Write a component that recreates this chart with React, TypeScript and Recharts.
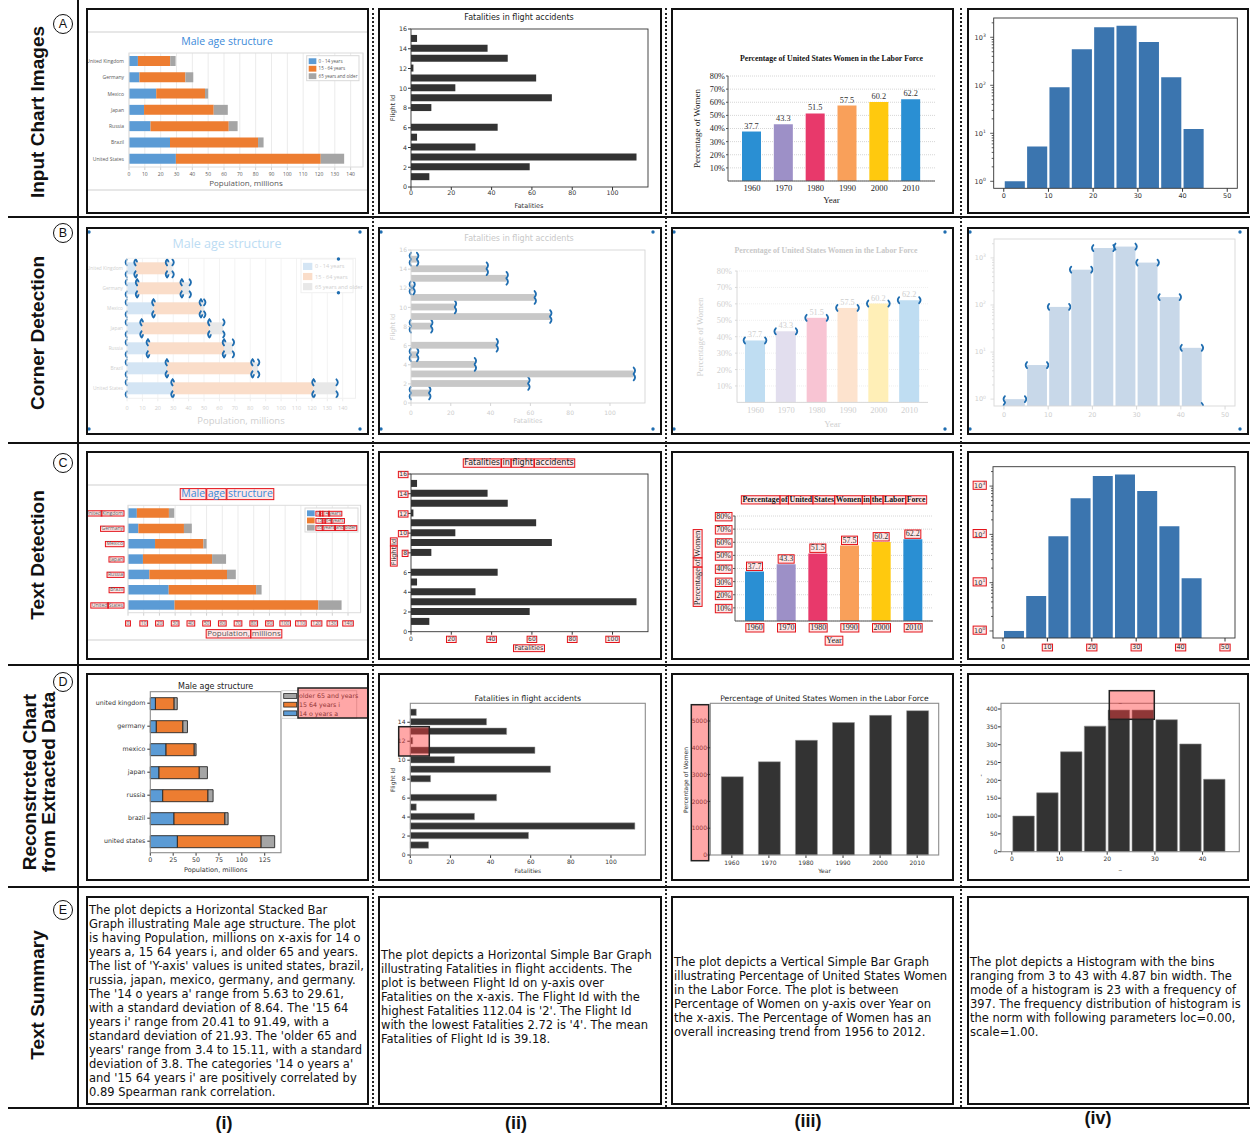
import React from "react";
import { BarChart, Bar, XAxis, YAxis, CartesianGrid, Cell, LabelList } from "recharts";

// ---------- data ----------
const countries = ["United Kingdom", "Germany", "Mexico", "Japan", "Russia", "Brazil", "United States"];
const age0to14 = [5.63, 6.6, 17.2, 9.5, 13.6, 25.9, 29.61];
const age15to64 = [20.41, 29.0, 30.8, 44.0, 49.4, 55.6, 91.49];
const age65plus = [3.4, 5.0, 2.0, 8.9, 5.6, 3.5, 14.8];
const ageTicks = [0, 10, 20, 30, 40, 50, 60, 70, 80, 90, 100, 110, 120, 130, 140];
const ageTicksRecon = [0, 25, 50, 75, 100, 125];
const ageLegend = ["0 - 14 years", "15 - 64 years", "65 years and older"];
const ageLegendRecon = ["older 65 and years", "15 64 years i", "14 o years a"];

const flightIds = [1, 2, 3, 4, 5, 6, 7, 8, 9, 10, 11, 12, 13, 14, 15];
const fatalities = [9.1, 58.9, 111.9, 32, 3, 43, 0, 10.1, 69.9, 22, 62.1, 1.2, 48, 38, 3];
const flightTicks = [0, 2, 4, 6, 8, 10, 12, 14, 16];
const flightTicksRecon = [0, 2, 4, 6, 8, 10, 12, 14];
const fatalityTicks = [0, 20, 40, 60, 80, 100];

const years = ["1960", "1970", "1980", "1990", "2000", "2010"];
const womenPct = [37.7, 43.3, 51.5, 57.5, 60.2, 62.2];
const womenRecon = [2920, 3480, 4280, 4940, 5210, 5385];
const pctTicks = [10, 20, 30, 40, 50, 60, 70, 80];
const reconPctTicks = [0, 1000, 2000, 3000, 4000, 5000];

const BIN = 5;
const binStarts = [0, 5, 10, 15, 20, 25, 30, 35, 40];
const binCounts = [1, 5.3, 91, 562, 1620, 1740, 795, 147, 12.3];
const reconCounts = [100, 165, 280, 352, 397, 397, 370, 302, 203];
const histTicks = [0, 10, 20, 30, 40, 50];
const histTicksRecon = [0, 10, 20, 30, 40];
const logTicks = [1, 2, 3, 4, 5, 6, 7, 8, 9, 10, 20, 30, 40, 50, 60, 70, 80, 90, 100, 200, 300, 400, 500, 600, 700, 800, 900, 1000, 2000];
const countTicksRecon = [0, 50, 100, 150, 200, 250, 300, 350, 400];

const summaries = [
  "The plot depicts a Horizontal Stacked Bar Graph illustrating Male age structure. The plot is having Population, millions on x-axis for 14 o years a, 15 64 years i, and older 65 and years. The list of 'Y-axis' values is united states, brazil, russia, japan, mexico, germany, and germany. The '14 o years a' range from 5.63 to 29.61, with a standard deviation of 8.64. The '15 64 years i' range from 20.41 to 91.49, with a standard deviation of 21.93. The 'older 65 and years' range from 3.4 to 15.11, with a standard deviation of 3.8. The categories '14 o years a' and '15 64 years i' are positively correlated by 0.89 Spearman rank correlation.",
  "The plot depicts a Horizontal Simple Bar Graph illustrating Fatalities in flight accidents. The plot is between Flight Id on y-axis over Fatalities on the x-axis. The Flight Id with the highest Fatalities 112.04 is '2'. The Flight Id with the lowest Fatalities 2.72 is '4'. The mean Fatalities of Flight Id is 39.18.",
  "The plot depicts a Vertical Simple Bar Graph illustrating Percentage of United States Women in the Labor Force. The plot is between Percentage of Women on y-axis over Year on the x-axis. The Percentage of Women has an overall increasing trend from 1956 to 2012.",
  "The plot depicts a Histogram with the bins ranging from 3 to 43 with 4.87 bin width. The mode of a histogram is 23 with a frequency of 397. The frequency distribution of histogram is the norm with following parameters loc=0.00, scale=1.00.",
];

const ageRows = countries.map((name, i) => ({ name, a: age0to14[i], b: age15to64[i], c: age65plus[i] }));
const ageRowsRecon = ageRows.map((r) => ({ ...r, name: r.name.toLowerCase() }));
const flightRows = flightIds.map((id, i) => ({ id, fat: fatalities[i] }));
const womenRows = years.map((year, i) => ({ year, pct: womenPct[i], recon: womenRecon[i] }));
const histRows = binStarts.map((s, i) => ({ mid: s + BIN / 2, count: binCounts[i] }));
const histRowsRecon = binStarts.map((s, i) => ({ mid: s + BIN / 2, count: reconCounts[i] }));

// ---------- style ----------
const MPL = "'DejaVu Sans', sans-serif";
const SERIF = "'Liberation Serif', 'DejaVu Serif', serif";
const EXCEL = "'Open Sans', 'Noto Sans', sans-serif";
const SANS = "'Liberation Sans', Arial, sans-serif";
const RED = "#e3141b";
const BOXFILL = "rgba(255,60,60,0.12)";
const MK = "#1f6db0";
const ageColors = ["#5b9bd5", "#ed7d31", "#a5a5a5"];
const ageKeys = ["a", "b", "c"];
const womenColors = ["#2a8fd3", "#9d90c7", "#e8396b", "#f9a05a", "#ffc90e", "#2a8fd3"];

const colX = [86, 378, 671, 967];
const colW = [283, 284, 283, 282];
const rowY = [8, 227, 451, 673, 896];
const rowH = [206, 208, 209, 208, 209];
const summaryPadRight = [4, 6, 4, 4];

type Mode = "input" | "corner" | "text";

function fade(hex: string, k: number) {
  const n = parseInt(hex.slice(1), 16);
  const c = [n >> 16, (n >> 8) & 255, n & 255].map((v) => Math.round(v + (255 - v) * k));
  return `rgb(${c.join(",")})`;
}

let ctx2d: CanvasRenderingContext2D | null = null;
function tw(s: string, size: number, font: string, weight: string | number = "normal") {
  if (!ctx2d) ctx2d = document.createElement("canvas").getContext("2d");
  if (!ctx2d) return s.length * size * 0.55;
  ctx2d.font = `${weight} ${size}px ${font}`;
  return ctx2d.measureText(s).width;
}

type TP = {
  x: number; y: number; s: string; size: number; font: string; fill?: string;
  anchor?: "start" | "middle" | "end"; weight?: string | number; boxed?: boolean; rot?: number;
};

// svg text, optionally with a red box around every word
function T(props: TP) {
  const { x, y, s, size, font, fill = "#333", anchor = "start", weight = "normal", boxed = false, rot = 0 } = props;
  if (rot) {
    return (
      <g transform={`translate(${x} ${y}) rotate(${rot})`}>
        <T {...props} x={0} y={size * 0.35} rot={0} />
      </g>
    );
  }
  const boxes: React.ReactNode[] = [];
  if (boxed) {
    const full = tw(s, size, font, weight);
    const x0 = anchor === "middle" ? x - full / 2 : anchor === "end" ? x - full : x;
    const words = s.split(" ");
    words.forEach((w, i) => {
      if (!w) return;
      const pre = i ? tw(words.slice(0, i).join(" ") + " ", size, font, weight) : 0;
      boxes.push(
        <rect key={i} x={x0 + pre - 1} y={y - size * 0.8} width={tw(w, size, font, weight) + 2}
          height={size * 1.05} fill={BOXFILL} stroke={RED} strokeWidth={1} />
      );
    });
  }
  return (
    <g>
      {boxes}
      <text x={x} y={y} fontSize={size} fontFamily={font} fontWeight={weight} fill={fill} textAnchor={anchor}>
        {s}
      </text>
    </g>
  );
}

type TickOpt = {
  side: "left" | "bottom"; at: number; size: number; font: string; fill: string;
  fmt?: (v: any) => string; box?: (v: any) => boolean;
};
function tk(o: TickOpt) {
  return (p: any) => {
    const v = p.payload?.value;
    const s = o.fmt ? o.fmt(v) : String(v);
    const boxed = o.box ? o.box(v) : false;
    if (o.side === "bottom")
      return <T x={p.x} y={o.at} s={s} size={o.size} font={o.font} fill={o.fill} anchor="middle" boxed={boxed} />;
    return <T x={o.at} y={p.y + o.size * 0.36} s={s} size={o.size} font={o.font} fill={o.fill} anchor="end" boxed={boxed} />;
  };
}

// corner-detection markers
function markD(cx: number, cy: number, sx: number) {
  return `M ${cx} ${cy - 3} Q ${cx + sx * 2.8} ${cy} ${cx} ${cy + 3}`;
}
function cornerBar(pick: (p: any) => number[][]) {
  return (p: any) => {
    const { x, y, width, height, fill } = p;
    if (!(width > 0) || !(height > 0)) return <g />;
    return (
      <g>
        <rect x={x} y={y} width={width} height={height} fill={fill} />
        {pick(p).map(([cx, cy, sx], i) => (
          <path key={i} d={markD(cx, cy, sx)} fill="none" stroke={MK} strokeWidth={1.8} strokeLinecap="round" />
        ))}
      </g>
    );
  };
}
const allCorners = (p: any) => [
  [p.x, p.y, -1], [p.x + p.width, p.y, 1], [p.x, p.y + p.height, -1], [p.x + p.width, p.y + p.height, 1],
];
const topCorners = (p: any) => [[p.x, p.y, -1], [p.x + p.width, p.y, 1]];
const fatCorners = (p: any) => {
  const right = [[p.x + p.width, p.y, 1], [p.x + p.width, p.y + p.height, 1]];
  return p.payload && p.payload.fat < 15 ? [...right, [p.x, p.y, -1], [p.x, p.y + p.height, -1]] : right;
};
const histCorners = (p: any) => {
  const out = topCorners(p);
  if (p.index === 0) out.push([p.x, p.y + p.height, -1]);
  if (p.index === binStarts.length - 1) out.push([p.x + p.width, p.y + p.height, 1]);
  return out;
};

function Overlay({ W, H, children }: any) {
  return (
    <svg width={W} height={H} style={{ position: "absolute", left: 0, top: 0, overflow: "visible", pointerEvents: "none" }}>
      {children}
    </svg>
  );
}
function ChartBox({ children }: any) {
  return <div style={{ position: "absolute", left: 0, top: 0 }}>{children}</div>;
}
function PanelDots({ W, H }: { W: number; H: number }) {
  const pts = [[3, 5], [W - 9, 5], [3, H - 6], [W - 9, H - 6]];
  return <g>{pts.map(([x, y], i) => <circle key={i} cx={x} cy={y} r={1.7} fill={MK} />)}</g>;
}

// ---------- column (i): male age structure ----------
const ageCfg: Record<Mode, any> = {
  input: { l: 43, r: 277, t: 45, b: 159, xMax: 147.8, bar: 10, title: [141, 37, 10.5], xt: [167.5, 5], yt: [38, 5], lab: [160, 178, 8], leg: [220.7, 47.7, 52.3, 25, 4.5], frame: [24, 182] },
  corner: { l: 41, r: 269.5, t: 31.3, b: 171.3, xMax: 148.3, bar: 12, title: [141, 20.5, 12.5], xt: [183.3, 5.5], yt: [37, 4.8], lab: [155, 196.5, 9.5], leg: [215, 32, 52, 33.7, 5.5], frame: null },
  text: { l: 42, r: 274.6, t: 54.3, b: 161.7, xMax: 148, bar: 9.5, title: [141, 46, 10.5], xt: [173.8, 5], yt: [37, 5], lab: [158, 185, 8], leg: [219, 57, 53, 24, 4.5], frame: [34, 189] },
};

function AgeExcel({ mode, W, H }: { mode: Mode; W: number; H: number }) {
  const c = ageCfg[mode];
  const faded = mode === "corner";
  const boxed = mode === "text";
  const cols = ageColors.map((k) => (faded ? fade(k, 0.74) : k));
  const txt = faded ? "#d0d0d0" : "#595959";
  const [lx, ly, lw, lh, lf] = c.leg;
  return (
    <>
      <ChartBox>
        <BarChart width={W} height={H} layout="vertical" data={ageRows} margin={{ top: c.t, right: W - c.r, bottom: 0, left: 0 }} barSize={c.bar}>
          <CartesianGrid horizontal={false} stroke={faded ? "#f3f3f3" : "#ebebeb"} />
          <XAxis type="number" domain={[0, c.xMax]} ticks={ageTicks} interval={0} height={H - c.b} axisLine={false}
            tickSize={3} tickLine={{ stroke: faded ? "#ececec" : "#d0d0d0" }}
            tick={tk({ side: "bottom", at: c.xt[0], size: c.xt[1], font: EXCEL, fill: txt, box: () => boxed })} />
          <YAxis type="category" dataKey="name" width={c.l} axisLine={false} tickLine={false} interval={0}
            tick={tk({ side: "left", at: c.yt[0], size: c.yt[1], font: EXCEL, fill: txt, box: () => boxed })} />
          {ageKeys.map((k, i) => (
            <Bar key={k} dataKey={k} stackId="age" fill={cols[i]} isAnimationActive={false}
              shape={faded ? cornerBar(allCorners) : undefined} />
          ))}
        </BarChart>
      </ChartBox>
      <Overlay W={W} H={H}>
        {c.frame && c.frame.map((y: number) => <line key={y} x1={2} x2={W - 2} y1={y} y2={y} stroke="#cfcfcf" />)}
        <rect x={c.l} y={c.t} width={c.r - c.l} height={c.b - c.t} fill="none" stroke={faded ? "#f0f0f0" : "#dcdcdc"} />
        <T x={c.title[0]} y={c.title[1]} s="Male age structure" size={c.title[2]} font={EXCEL} fill={faded ? "#bcdcf3" : "#3b8ad9"} anchor="middle" boxed={boxed} />
        <T x={c.lab[0]} y={c.lab[1]} s="Population, millions" size={c.lab[2]} font={EXCEL} fill={faded ? "#cfcfcf" : "#595959"} anchor="middle" boxed={boxed} />
        <rect x={lx} y={ly} width={lw} height={lh} fill="#fff" stroke={faded ? "#f0f0f0" : "#d9d9d9"} />
        {ageLegend.map((name, i) => {
          const ry = ly + lh * (0.22 + i * 0.3);
          return (
            <g key={name}>
              <rect x={lx + 2} y={ry - lf * 0.65} width={lf * 1.7} height={lf * 1.3} fill={cols[i]} />
              <T x={lx + 2 + lf * 2.2} y={ry + lf * 0.36} s={name} size={lf} font={EXCEL} fill={txt} boxed={boxed} />
            </g>
          );
        })}
        {faded && <PanelDots W={W} H={H} />}
        {faded && <circle cx={lx + lw * 0.72} cy={ly} r={1.7} fill={MK} />}
        {faded && <circle cx={lx + lw * 0.72} cy={ly + lh} r={1.7} fill={MK} />}
      </Overlay>
    </>
  );
}

function AgeRecon({ W, H }: { W: number; H: number }) {
  const c = { l: 64.3, r: 195, t: 18.7, b: 179.7 };
  const legCols = [ageColors[2], ageColors[1], ageColors[0]];
  return (
    <>
      <ChartBox>
        <BarChart width={W} height={H} layout="vertical" data={ageRowsRecon} margin={{ top: c.t, right: W - c.r, bottom: 0, left: 0 }} barSize={12}>
          <XAxis type="number" domain={[0, 142.8]} ticks={ageTicksRecon} interval={0} height={H - c.b} axisLine={false}
            tickSize={3} tickLine={{ stroke: "#333" }}
            tick={tk({ side: "bottom", at: 189.3, size: 6.3, font: MPL, fill: "#333" })} />
          <YAxis type="category" dataKey="name" width={c.l} axisLine={false} interval={0} tickSize={3} tickLine={{ stroke: "#333" }}
            tick={tk({ side: "left", at: c.l - 5, size: 6.3, font: MPL, fill: "#333" })} />
          {ageKeys.map((k, i) => (
            <Bar key={k} dataKey={k} stackId="age" fill={ageColors[i]} stroke="#262626" strokeWidth={0.9} isAnimationActive={false} />
          ))}
        </BarChart>
      </ChartBox>
      <Overlay W={W} H={H}>
        <rect x={c.l} y={c.t} width={c.r - c.l} height={c.b - c.t} fill="none" stroke="#8c8c8c" strokeWidth={1.1} />
        <T x={(c.l + c.r) / 2} y={16} s="Male age structure" size={8} font={MPL} fill="#222" anchor="middle" />
        <T x={(c.l + c.r) / 2} y={199} s="Population, millions" size={6.5} font={MPL} fill="#333" anchor="middle" />
        <rect x={195.7} y={17.7} width={75} height={27.6} fill="#fff" fillOpacity={0.85} stroke="#d0d0d0" />
        {ageLegendRecon.map((name, i) => {
          const ry = 23 + i * 8.65;
          return (
            <g key={name}>
              <rect x={197.7} y={ry - 2.4} width={13} height={4.8} fill={legCols[i]} stroke="#262626" strokeWidth={0.8} />
              <T x={213} y={ry + 2.3} s={name} size={6.3} font={MPL} fill="#333" />
            </g>
          );
        })}
        <rect x={212} y={15} width={70} height={30} fill="rgba(255,60,60,0.45)" stroke="#222" strokeWidth={1.5} />
      </Overlay>
    </>
  );
}

// ---------- column (ii): flight fatalities ----------
const fatCfg: Record<Mode, any> = {
  input: { l: 33, r: 270, t: 21, b: 179, bar: 7, title: [141, 12.3, 8], xt: [186.6, 6.3], yt: [29, 6.3], ylab: [15, 100], xlab: [151, 199.5], lab: 6.5 },
  corner: { l: 33, r: 267, t: 23, b: 176, bar: 6.8, title: [141, 14, 8], xt: [187.5, 6], yt: [29, 6], ylab: [15, 100], xlab: [150, 196], lab: 6.5 },
  text: { l: 33, r: 270, t: 23, b: 180.7, bar: 7, title: [141, 14.3, 8], xt: [190, 6], yt: [29, 6], ylab: [15.3, 101], xlab: [151, 199], lab: 6.5 },
};

function Fatal({ mode, W, H }: { mode: Mode; W: number; H: number }) {
  const c = fatCfg[mode];
  const faded = mode === "corner";
  const boxed = mode === "text";
  const fill = faded ? "#c8c8c8" : "#333";
  const txt = faded ? "#cdcdcd" : "#333";
  const axis = faded ? "#d5d5d5" : "#333";
  return (
    <>
      <ChartBox>
        <BarChart width={W} height={H} layout="vertical" data={flightRows} margin={{ top: c.t, right: W - c.r, bottom: 0, left: 0 }}>
          <XAxis type="number" domain={[0, 117.6]} ticks={fatalityTicks} interval={0} height={H - c.b} axisLine={false}
            tickSize={3} tickLine={{ stroke: axis }}
            tick={tk({ side: "bottom", at: c.xt[0], size: c.xt[1], font: MPL, fill: txt, box: (v) => boxed && v > 0 })} />
          <YAxis type="number" dataKey="id" domain={[0, 16]} ticks={flightTicks} interval={0} reversed width={c.l} axisLine={false}
            tickSize={3} tickLine={{ stroke: axis }}
            tick={tk({ side: "left", at: c.yt[0], size: c.yt[1], font: MPL, fill: txt, box: (v) => boxed && v >= 8 })} />
          <Bar dataKey="fat" barSize={c.bar} fill={fill} isAnimationActive={false} shape={faded ? cornerBar(fatCorners) : undefined} />
        </BarChart>
      </ChartBox>
      <Overlay W={W} H={H}>
        <rect x={c.l} y={c.t} width={c.r - c.l} height={c.b - c.t} fill="none" stroke={axis} strokeWidth={0.9} />
        <T x={c.title[0]} y={c.title[1]} s="Fatalities in flight accidents" size={c.title[2]} font={MPL} fill={faded ? "#c8c8c8" : "#222"} anchor="middle" boxed={boxed} />
        <T x={c.ylab[0]} y={c.ylab[1]} s="Flight Id" size={c.lab} font={MPL} fill={txt} anchor="middle" rot={-90} boxed={boxed} />
        <T x={c.xlab[0]} y={c.xlab[1]} s="Fatalities" size={c.lab} font={MPL} fill={txt} anchor="middle" boxed={boxed} />
        {faded && <PanelDots W={W} H={H} />}
      </Overlay>
    </>
  );
}

function FatalRecon({ W, H }: { W: number; H: number }) {
  const c = { l: 32.3, r: 267.3, t: 30.3, b: 182 };
  return (
    <>
      <ChartBox>
        <BarChart width={W} height={H} layout="vertical" data={flightRows} margin={{ top: c.t, right: W - c.r, bottom: 0, left: 0 }}>
          <XAxis type="number" domain={[0, 117.1]} ticks={fatalityTicks} interval={0} height={H - c.b} axisLine={false}
            tickSize={3} tickLine={{ stroke: "#333" }}
            tick={tk({ side: "bottom", at: 190.5, size: 6, font: MPL, fill: "#333" })} />
          <YAxis type="number" dataKey="id" domain={[0, 16]} ticks={flightTicksRecon} interval={0} reversed width={c.l} axisLine={false}
            tickSize={3} tickLine={{ stroke: "#333" }}
            tick={tk({ side: "left", at: 27.5, size: 6, font: MPL, fill: "#333" })} />
          <Bar dataKey="fat" barSize={6.5} fill="#333" stroke="#9a9a9a" strokeWidth={0.5} isAnimationActive={false} />
        </BarChart>
      </ChartBox>
      <Overlay W={W} H={H}>
        <rect x={c.l} y={c.t} width={c.r - c.l} height={c.b - c.t} fill="none" stroke="#8c8c8c" strokeWidth={1.1} />
        <T x={(c.l + c.r) / 2} y={27.5} s="Fatalities in flight accidents" size={7.8} font={MPL} fill="#222" anchor="middle" />
        <T x={14.7} y={107} s="Flight Id" size={6} font={MPL} fill="#333" anchor="middle" rot={-90} />
        <T x={(c.l + c.r) / 2} y={200} s="Fatalities" size={6} font={MPL} fill="#333" anchor="middle" />
        <rect x={20.7} y={53.7} width={30.6} height={29.3} fill="rgba(255,60,60,0.45)" stroke="#222" strokeWidth={1.5} />
      </Overlay>
    </>
  );
}

// ---------- column (iii): women in the labor force ----------
const womCfg: Record<Mode, any> = {
  input: { l: 57, r: 264, t: 68, b: 173, pad: 8, bar: 19, title: [160.5, 53, 7.8], xt: [183, 8.5], yt: [54, 8.3], ylab: [26, 120.5], xlab: [160.5, 194.5], lab: 9, val: 8.3 },
  corner: { l: 66, r: 257, t: 44, b: 175.4, pad: 3, bar: 20, title: [155, 26, 7.8], xt: [186, 8.5], yt: [61, 8.3], ylab: [29, 110], xlab: [161.5, 200], lab: 9, val: 8.3 },
  text: { l: 64, r: 262, t: 65, b: 170, pad: 4, bar: 19, title: [163, 51, 7.8], xt: [179, 8], yt: [60, 8], ylab: [26, 117], xlab: [163, 192], lab: 8.5, val: 8 },
};

function Women({ mode, W, H }: { mode: Mode; W: number; H: number }) {
  const c = womCfg[mode];
  const faded = mode === "corner";
  const boxed = mode === "text";
  const txt = faded ? "#cfcfcf" : "#222";
  const axis = faded ? "#d8d8d8" : "#555";
  const valueLabel = (p: any) => (
    <T x={p.x + p.width / 2} y={p.y - 3} s={String(p.value)} size={c.val} font={SERIF} fill={faded ? "#cfcfcf" : "#333"} anchor="middle" boxed={boxed} />
  );
  return (
    <>
      <ChartBox>
        <BarChart width={W} height={H} data={womenRows} margin={{ top: c.t, right: W - c.r, bottom: 0, left: 0 }}>
          <CartesianGrid vertical={false} stroke={faded ? "#efefef" : "#d6d6d6"} strokeDasharray="1 1" />
          <XAxis dataKey="year" padding={{ left: c.pad, right: c.pad }} height={H - c.b} axisLine={{ stroke: axis }} tickLine={false} interval={0}
            tick={tk({ side: "bottom", at: c.xt[0], size: c.xt[1], font: SERIF, fill: txt, box: () => boxed })} />
          <YAxis domain={[0, 80]} ticks={pctTicks} interval={0} width={c.l} axisLine={{ stroke: axis }} tickSize={2} tickLine={{ stroke: axis }}
            tick={tk({ side: "left", at: c.yt[0], size: c.yt[1], font: SERIF, fill: txt, fmt: (v) => v + "%", box: () => boxed })} />
          <Bar dataKey="pct" barSize={c.bar} isAnimationActive={false} shape={faded ? cornerBar(topCorners) : undefined}>
            {womenColors.map((k, i) => (
              <Cell key={i} fill={faded ? fade(k, 0.7) : k} />
            ))}
            <LabelList dataKey="pct" content={valueLabel} />
          </Bar>
        </BarChart>
      </ChartBox>
      <Overlay W={W} H={H}>
        <T x={c.title[0]} y={c.title[1]} s="Percentage of United States Women in the Labor Force" size={c.title[2]} font={SERIF} weight="bold" fill={faded ? "#c8c8c8" : "#111"} anchor="middle" boxed={boxed} />
        <T x={c.ylab[0]} y={c.ylab[1]} s="Percentage of Women" size={c.lab} font={SERIF} fill={txt} anchor="middle" rot={-90} boxed={boxed} />
        <T x={c.xlab[0]} y={c.xlab[1]} s="Year" size={c.lab} font={SERIF} fill={txt} anchor="middle" boxed={boxed} />
        {faded && <PanelDots W={W} H={H} />}
      </Overlay>
    </>
  );
}

function WomenRecon({ W, H }: { W: number; H: number }) {
  const c = { l: 39.3, r: 267.7, t: 30.3, b: 182 };
  return (
    <>
      <ChartBox>
        <BarChart width={W} height={H} data={womenRows} margin={{ top: c.t, right: W - c.r, bottom: 0, left: 0 }}>
          <XAxis dataKey="year" padding={{ left: 3, right: 3 }} height={H - c.b} axisLine={false} interval={0}
            tickSize={3} tickLine={{ stroke: "#333" }}
            tick={tk({ side: "bottom", at: 192, size: 6, font: MPL, fill: "#333" })} />
          <YAxis domain={[0, 5660]} ticks={reconPctTicks} interval={0} width={c.l} axisLine={false}
            tickSize={3} tickLine={{ stroke: "#333" }}
            tick={tk({ side: "left", at: 36, size: 6, font: MPL, fill: "#333" })} />
          <Bar dataKey="recon" barSize={22} fill="#333" stroke="#9a9a9a" strokeWidth={0.5} isAnimationActive={false} />
        </BarChart>
      </ChartBox>
      <Overlay W={W} H={H}>
        <rect x={c.l} y={c.t} width={c.r - c.l} height={c.b - c.t} fill="none" stroke="#8c8c8c" strokeWidth={1.1} />
        <T x={(c.l + c.r) / 2} y={27.5} s="Percentage of United States Women in the Labor Force" size={7.6} font={MPL} fill="#222" anchor="middle" />
        <T x={14.7} y={107} s="Percentage of Women" size={6} font={MPL} fill="#333" anchor="middle" rot={-90} />
        <T x={(c.l + c.r) / 2} y={200} s="Year" size={6} font={MPL} fill="#333" anchor="middle" />
        <rect x={20.3} y={31.7} width={17.4} height={156} fill="rgba(255,60,60,0.45)" stroke="#222" strokeWidth={1.5} />
      </Overlay>
    </>
  );
}

// ---------- column (iv): histogram ----------
const histCfg: Record<Mode, any> = {
  input: { l: 26.7, r: 270.3, t: 10, b: 180.3, xt: 189.6, yt: 18.8 },
  corner: { l: 27, r: 268, t: 12, b: 179, xt: 190.4, yt: 19 },
  text: { l: 26, r: 268, t: 15.7, b: 187, xt: 198.3, yt: 18.3 },
};
const H_MIN = -2.25;
const H_MAX = 52.25;

function Hist({ mode, W, H }: { mode: Mode; W: number; H: number }) {
  const c = histCfg[mode];
  const faded = mode === "corner";
  const boxed = mode === "text";
  const fill = faded ? fade("#3b75af", 0.72) : "#3b75af";
  const txt = faded ? "#cfcfcf" : "#333";
  const axis = faded ? "#d8d8d8" : "#333";
  const bs = (BIN * (c.r - c.l)) / (H_MAX - H_MIN);
  const size = 6.5;
  const logTick = (p: any) => {
    const v = p.payload?.value;
    const exp = Math.round(Math.log10(v));
    const major = Math.abs(Math.pow(10, exp) - v) < 1e-6;
    const y = p.y;
    const bw = tw("10", size, MPL) + tw(String(exp), size * 0.7, MPL);
    return (
      <g>
        <line x1={c.l - (major ? 3.5 : 2)} x2={c.l} y1={y} y2={y} stroke={axis} strokeWidth={0.8} />
        {major && boxed && (
          <rect x={c.yt - bw - 1} y={y - size * 0.75} width={bw + 2} height={size * 1.25} fill={BOXFILL} stroke={RED} />
        )}
        {major && (
          <text x={c.yt} y={y + size * 0.36} textAnchor="end" fontSize={size} fontFamily={MPL} fill={txt}>
            10<tspan dy={-size * 0.45} fontSize={size * 0.7}>{exp}</tspan>
          </text>
        )}
      </g>
    );
  };
  return (
    <>
      <ChartBox>
        <BarChart width={W} height={H} data={histRows} margin={{ top: c.t, right: W - c.r, bottom: 0, left: 0 }} barGap={0}>
          <XAxis type="number" dataKey="mid" domain={[H_MIN, H_MAX]} ticks={histTicks} interval={0} height={H - c.b} axisLine={false}
            allowDataOverflow tickSize={3.5} tickLine={{ stroke: axis }}
            tick={tk({ side: "bottom", at: c.xt, size, font: MPL, fill: txt, box: (v) => boxed && v > 0 })} />
          <YAxis scale="log" domain={[0.715, 2520]} ticks={logTicks} interval={0} width={c.l} axisLine={false} tickLine={false}
            allowDataOverflow tick={logTick} />
          <Bar dataKey="count" barSize={bs} fill={fill} isAnimationActive={false} shape={faded ? cornerBar(histCorners) : undefined} />
        </BarChart>
      </ChartBox>
      <Overlay W={W} H={H}>
        <rect x={c.l} y={c.t} width={c.r - c.l} height={c.b - c.t} fill="none" stroke={axis} strokeWidth={0.9} />
        {faded && <PanelDots W={W} H={H} />}
      </Overlay>
    </>
  );
}

function HistRecon({ W, H }: { W: number; H: number }) {
  const c = { l: 34, r: 272.3, t: 30.3, b: 178.7 };
  const xMin = -2.27;
  const xMax = 47.7;
  const bs = (BIN * (c.r - c.l)) / (xMax - xMin);
  return (
    <>
      <ChartBox>
        <BarChart width={W} height={H} data={histRowsRecon} margin={{ top: c.t, right: W - c.r, bottom: 0, left: 0 }} barGap={0}>
          <XAxis type="number" dataKey="mid" domain={[xMin, xMax]} ticks={histTicksRecon} interval={0} height={H - c.b} axisLine={false}
            allowDataOverflow tickSize={3} tickLine={{ stroke: "#333" }}
            tick={tk({ side: "bottom", at: 188, size: 6, font: MPL, fill: "#333" })} />
          <YAxis domain={[0, 416]} ticks={countTicksRecon} interval={0} width={c.l} axisLine={false}
            tickSize={3} tickLine={{ stroke: "#333" }}
            tick={tk({ side: "left", at: 30.7, size: 6, font: MPL, fill: "#333" })} />
          <Bar dataKey="count" barSize={bs} fill="#333" stroke="#8a8a8a" strokeWidth={0.6} isAnimationActive={false} />
        </BarChart>
      </ChartBox>
      <Overlay W={W} H={H}>
        <rect x={c.l} y={c.t} width={c.r - c.l} height={c.b - c.t} fill="none" stroke="#8c8c8c" strokeWidth={1.1} />
        <T x={153.3} y={29} s="_" size={6} font={MPL} fill="#333" anchor="middle" />
        <T x={153.3} y={196} s="_" size={6} font={MPL} fill="#333" anchor="middle" />
        <T x={14.3} y={106} s="'" size={6} font={MPL} fill="#333" anchor="middle" />
        <rect x={142.3} y={17.7} width={45} height={28.6} fill="rgba(255,60,60,0.45)" stroke="#222" strokeWidth={1.5} />
      </Overlay>
    </>
  );
}

// ---------- figure layout ----------
function Panel({ col, row, children }: { col: number; row: number; children: (W: number, H: number) => React.ReactNode }) {
  const W = colW[col];
  const H = rowH[row];
  return (
    <div style={{ position: "absolute", left: colX[col], top: rowY[row], width: W, height: H, background: "#fff" }}>
      {children(W, H)}
      <div style={{ position: "absolute", left: 0, top: 0, width: W, height: H, border: "2px solid #111", boxSizing: "border-box", pointerEvents: "none" }} />
    </div>
  );
}

function RowLabel({ x, y, lines }: { x: number; y: number; lines: string[] }) {
  return (
    <div style={{ position: "absolute", left: x, top: y, transform: "translate(-50%, -50%) rotate(-90deg)", whiteSpace: "nowrap", fontWeight: "bold", fontSize: 19, lineHeight: "19px", textAlign: "center", fontFamily: SANS, color: "#111" }}>
      {lines.map((l) => <div key={l}>{l}</div>)}
    </div>
  );
}

function Circ({ x, y, ch }: { x: number; y: number; ch: string }) {
  return (
    <div style={{ position: "absolute", left: x - 10, top: y - 10, width: 18, height: 18, border: "1.2px solid #111", borderRadius: "50%", fontSize: 12.5, lineHeight: "18px", textAlign: "center", fontFamily: SANS, color: "#111" }}>
      {ch}
    </div>
  );
}

const rowLabels = [
  { x: 37, y: 112, lines: ["Input Chart Images"], ch: "A", cy: 24 },
  { x: 37, y: 333, lines: ["Corner Detection"], ch: "B", cy: 233 },
  { x: 37, y: 555, lines: ["Text Detection"], ch: "C", cy: 463 },
  { x: 39, y: 782, lines: ["Reconstrcted Chart", "from Extracted Data"], ch: "D", cy: 682 },
  { x: 37, y: 995, lines: ["Text Summary"], ch: "E", cy: 910 },
];
const colLabels = [
  { s: "(i)", x: 224, y: 1123 },
  { s: "(ii)", x: 516, y: 1123 },
  { s: "(iii)", x: 808, y: 1121 },
  { s: "(iv)", x: 1098, y: 1118 },
];
const modes: Mode[] = ["input", "corner", "text"];

export default function App() {
  return (
    <div style={{ position: "absolute", left: 0, top: 0, width: 1250, height: 1135, background: "#fff", overflow: "hidden" }}>
      <div style={{ position: "absolute", left: 77, top: 0, width: 2, height: 1109, background: "#111" }} />
      {[216, 442, 664, 886, 1107].map((y) => (
        <div key={y} style={{ position: "absolute", left: 8, top: y, width: 1242, height: 2, background: "#111" }} />
      ))}
      {[372, 665, 960].map((x) => (
        <div key={x} style={{ position: "absolute", left: x, top: 8, height: 1099, borderLeft: "2px dotted #222" }} />
      ))}
      {rowLabels.map((r) => (
        <React.Fragment key={r.ch}>
          <RowLabel x={r.x} y={r.y} lines={r.lines} />
          <Circ x={63} y={r.cy} ch={r.ch} />
        </React.Fragment>
      ))}
      {modes.map((m, row) => (
        <React.Fragment key={m}>
          <Panel col={0} row={row}>{(W, H) => <AgeExcel mode={m} W={W} H={H} />}</Panel>
          <Panel col={1} row={row}>{(W, H) => <Fatal mode={m} W={W} H={H} />}</Panel>
          <Panel col={2} row={row}>{(W, H) => <Women mode={m} W={W} H={H} />}</Panel>
          <Panel col={3} row={row}>{(W, H) => <Hist mode={m} W={W} H={H} />}</Panel>
        </React.Fragment>
      ))}
      <Panel col={0} row={3}>{(W, H) => <AgeRecon W={W} H={H} />}</Panel>
      <Panel col={1} row={3}>{(W, H) => <FatalRecon W={W} H={H} />}</Panel>
      <Panel col={2} row={3}>{(W, H) => <WomenRecon W={W} H={H} />}</Panel>
      <Panel col={3} row={3}>{(W, H) => <HistRecon W={W} H={H} />}</Panel>
      {summaries.map((s, i) => (
        <Panel key={i} col={i} row={4}>
          {(W, H) => (
            <div style={{ position: "absolute", left: 0, top: 0, width: W, height: H, display: "flex", alignItems: "center", paddingLeft: 3, paddingRight: summaryPadRight[i], paddingBottom: i === 0 ? 0 : 7, boxSizing: "border-box", fontFamily: MPL, fontSize: 11.5, lineHeight: "14px", color: "#111" }}>
              <div>{s}</div>
            </div>
          )}
        </Panel>
      ))}
      {colLabels.map((c) => (
        <div key={c.s} style={{ position: "absolute", left: c.x, top: c.y, transform: "translate(-50%, -50%)", fontFamily: SANS, fontWeight: "bold", fontSize: 18, color: "#111" }}>
          {c.s}
        </div>
      ))}
    </div>
  );
}
